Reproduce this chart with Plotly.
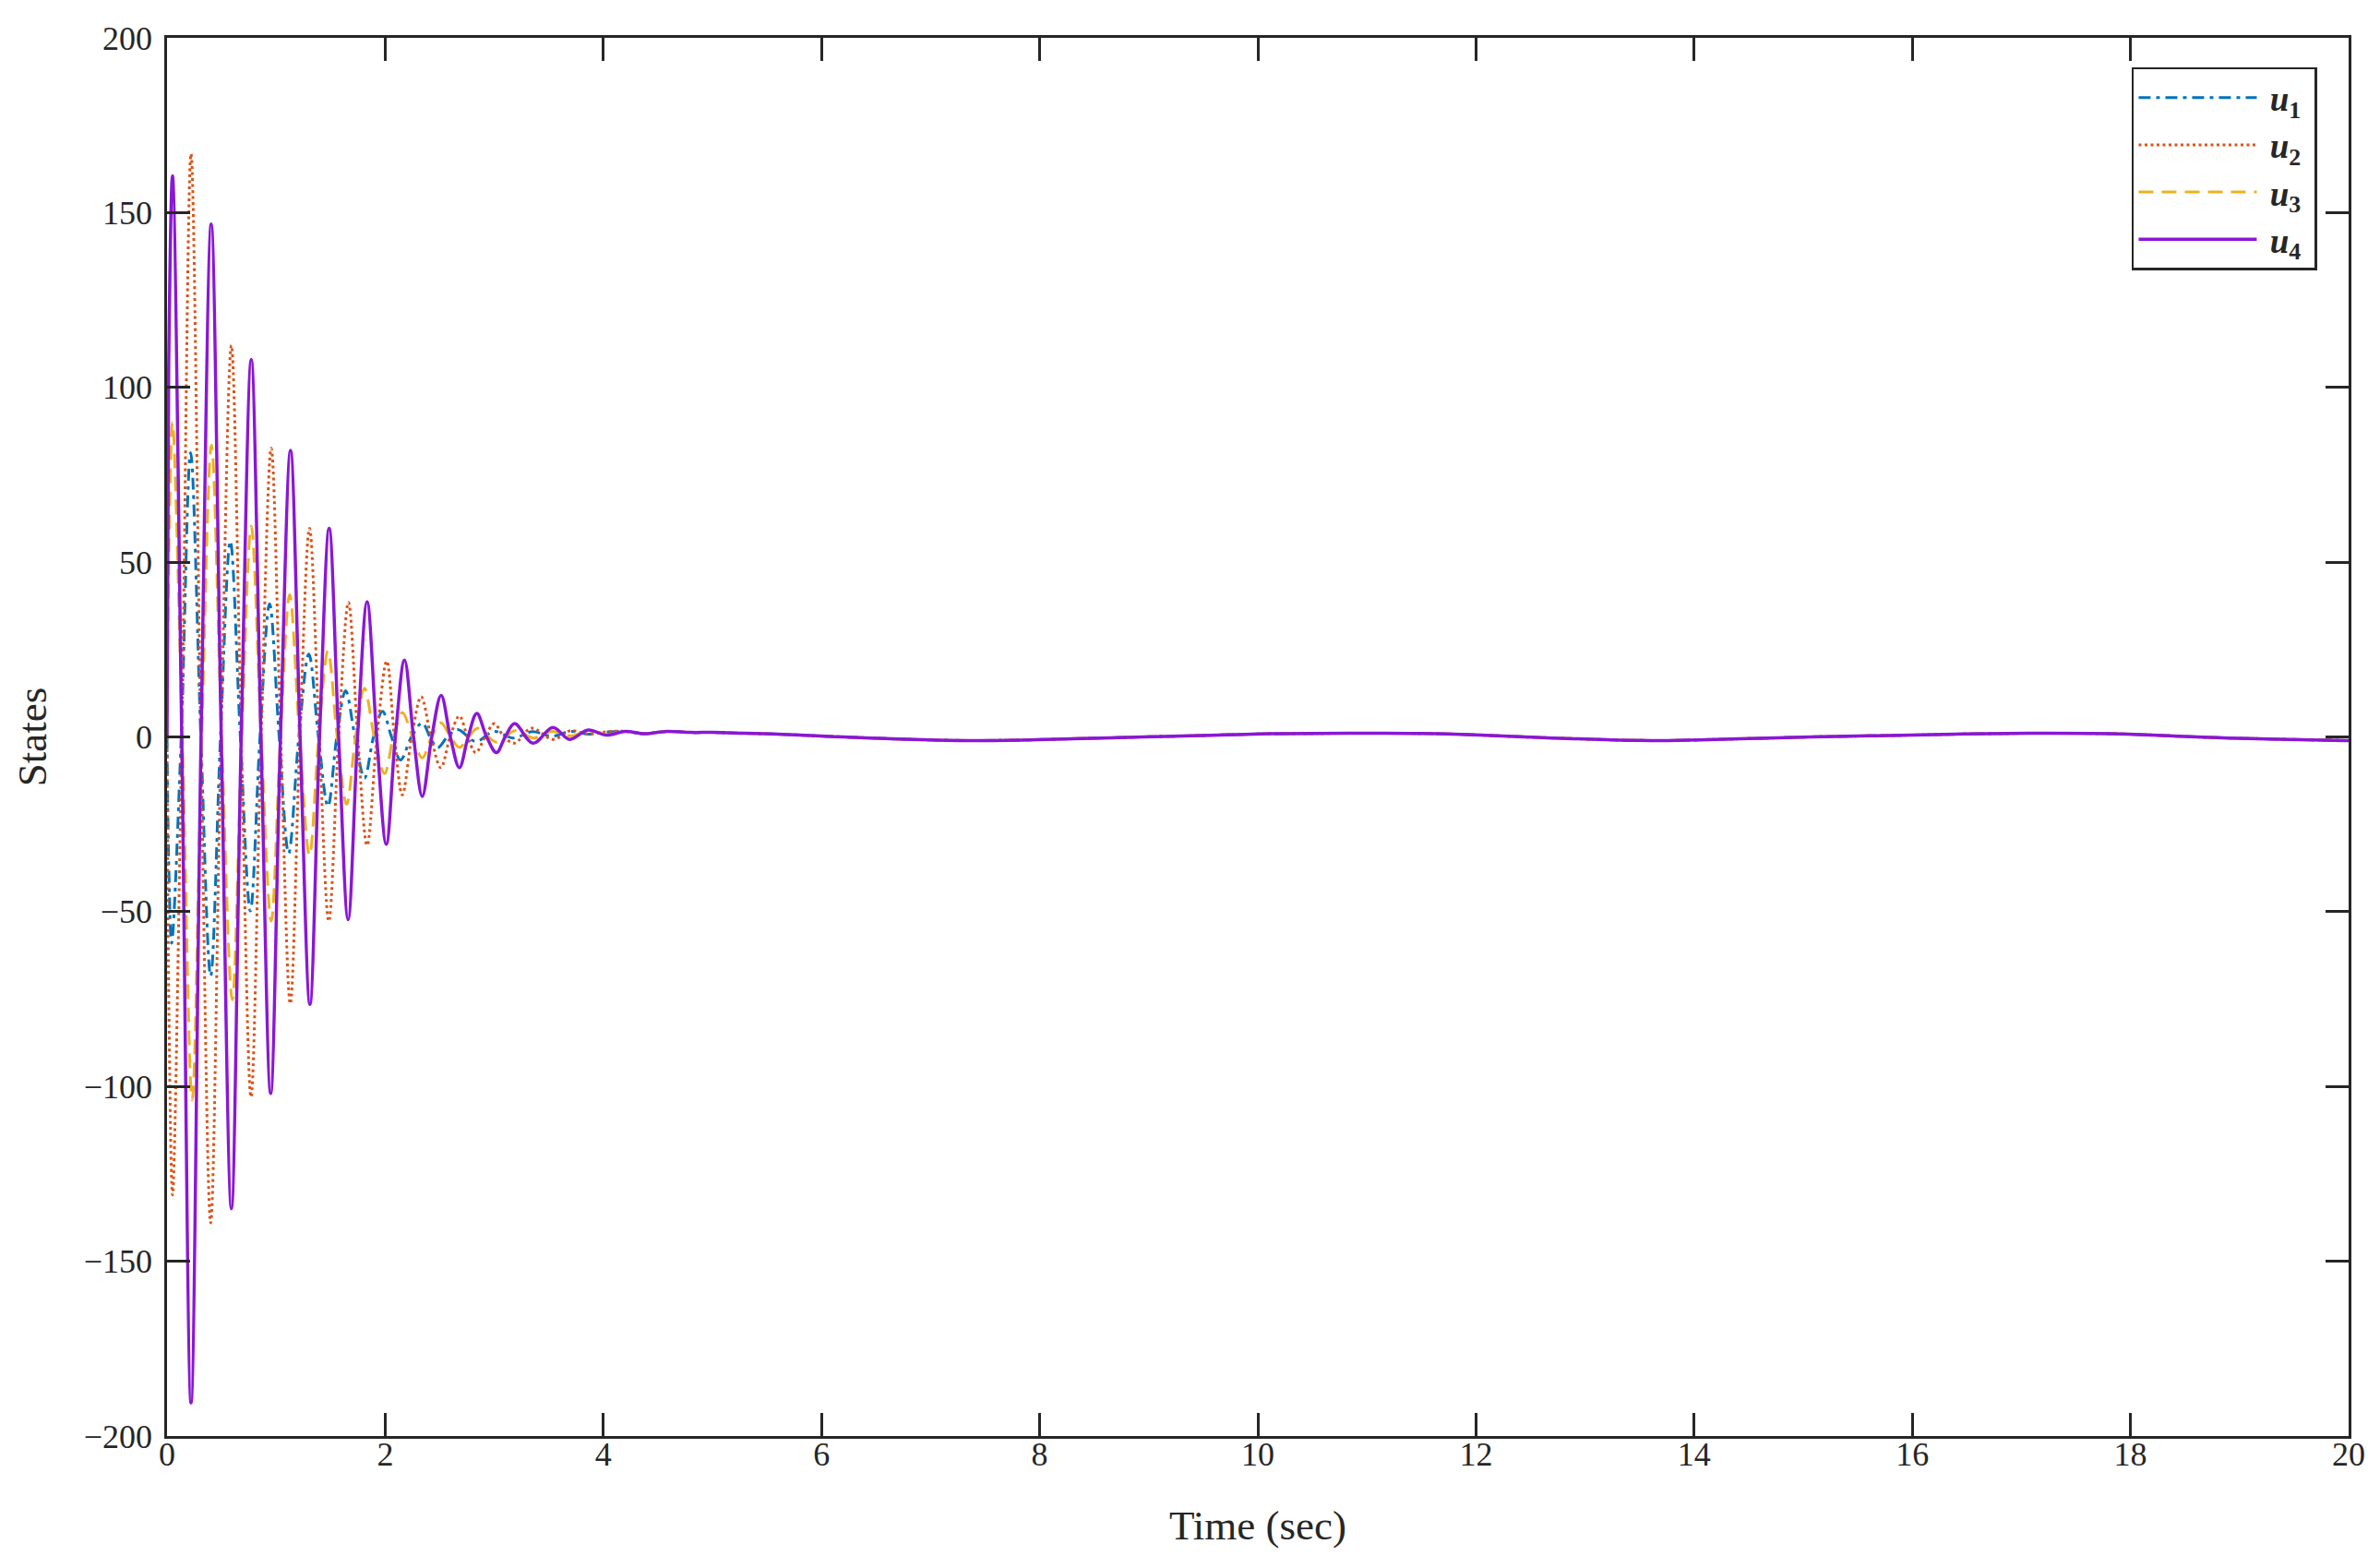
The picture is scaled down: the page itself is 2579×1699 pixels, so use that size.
import plotly.graph_objects as go

# u1: blue dash-dot
U1_T = [0, 0.015, 0.042, 0.13, 0.216, 0.31, 0.40, 0.49, 0.58, 0.672, 0.764, 0.852, 0.94, 1.028,
        1.115, 1.208, 1.30, 1.388, 1.475, 1.556, 1.637, 1.723, 1.81, 1.893, 1.975, 2.058, 2.14,
        2.24, 2.34, 2.41, 2.48, 2.57, 2.665, 2.83, 3.0, 3.17, 3.35, 3.53, 3.7, 3.86, 4.03]
U1_V = [0, -35, -59, 0, 81.3, 0, -68.4, 0, 56, 0, -49.8, 0, 38.1, 0,
        -33.3, 0, 23.7, 0, -19.9, 0, 13.2, 0, -11.8, 0, 7.3, 0, -6.6,
        0, 4.0, 0, -3.1, 0, 2.1, -1.3, 1.6, -0.3, 1.5, 0.2, 1.6, 0.8, 1.4]

# u2: orange dotted
U2_T = [0, 0.018, 0.05, 0.135, 0.22, 0.31, 0.40, 0.495, 0.59, 0.68, 0.77, 0.862, 0.955, 1.042,
        1.13, 1.218, 1.306, 1.395, 1.483, 1.573, 1.663, 1.748, 1.834, 1.924, 2.014, 2.085, 2.157,
        2.243, 2.33, 2.42, 2.51, 2.595, 2.68, 2.755, 2.83, 2.915, 3.0, 3.09, 3.186, 3.34, 3.54,
        3.7, 3.86, 4.03]
U2_V = [0, -80, -131, 0, 166.8, 0, -139, 0, 112, 0, -103, 0, 82.6, 0,
        -76.3, 0, 59.7, 0, -52.7, 0, 38.5, 0, -31, 0, 21.7, 0, -16.6,
        0, 11.5, 0, -8.8, 0, 6.0, 0, -4.5, 0, 3.8, 0, -1.8, 2.5, -0.7,
        1.8, 0.8, 1.5]

# u3: yellow dashed
U3_T = [0, 0.018, 0.05, 0.14, 0.23, 0.318, 0.407, 0.5, 0.598, 0.685, 0.772, 0.863, 0.955, 1.04,
        1.124, 1.215, 1.306, 1.39, 1.475, 1.56, 1.646, 1.728, 1.81, 1.9, 1.994, 2.075, 2.157,
        2.25, 2.34, 2.425, 2.51, 2.6, 2.68, 2.765, 2.85, 3.02, 3.19, 3.36, 3.53, 3.7, 3.86, 4.03]
U3_V = [0, 55, 90, 0, -103.8, 0, 83.5, 0, -75.2, 0, 60.3, 0, -52.7, 0,
        40.7, 0, -33.9, 0, 24.6, 0, -19.3, 0, 13.9, 0, -10.5, 0, 7.0,
        0, -6.0, 0, 4.0, 0, -3.0, 0, 2.5, -1.5, 1.8, -0.3, 1.6, 0.3, 1.8, 0.8]

# u4: purple solid
U4_T = [0, 0.015, 0.05, 0.135, 0.22, 0.312, 0.405, 0.497, 0.59, 0.68, 0.772, 0.861, 0.95, 1.04,
        1.132, 1.22, 1.31, 1.398, 1.486, 1.573, 1.66, 1.747, 1.834, 1.922, 2.01, 2.093, 2.177,
        2.26, 2.34, 2.427, 2.513, 2.597, 2.68, 2.76, 2.84, 2.93, 3.02, 3.1, 3.186, 3.355, 3.538,
        3.69, 3.86, 4.03]
U4_V = [0, 105, 160.5, 0, -190.5, 0, 146.7, 0, -135, 0, 108, 0, -102, 0,
        82, 0, -76.5, 0, 59.7, 0, -52.3, 0, 38.7, 0, -30.7, 0, 22,
        0, -17, 0, 11.9, 0, -8.8, 0, 6.7, 0, -4.5, 0, 3.8, -1.8, 2.7,
        -0.7, 2.0, 0.5]

# slow common tail, all four states overlap after ~4 s
TAIL_T = [4.2, 4.38, 4.58, 4.8, 5.0, 5.3, 5.6, 5.95, 6.2, 6.45, 6.7, 7.0, 7.4, 7.9, 8.3, 8.65,
          8.95, 9.3, 9.7, 10.1, 10.5, 11.0, 11.5, 11.8, 12.05, 12.25, 12.45, 12.65, 12.9, 13.2,
          13.7, 14.2, 14.6, 15.07, 15.6, 16.2, 16.7, 17.25, 17.8, 18.2, 18.5, 18.9, 19.45, 20.0]
TAIL_V = [1.6, 0.9, 1.6, 1.3, 1.3, 1.05, 0.8, 0.3, 0.0, -0.3, -0.6, -0.85, -1.05, -0.85, -0.5, -0.25,
          0.0, 0.26, 0.6, 0.9, 1.0, 1.05, 1.0, 0.8, 0.5, 0.26, 0.0, -0.26, -0.5, -0.8,
          -1.05, -0.7, -0.4, 0.0, 0.3, 0.65, 0.95, 1.05, 0.95, 0.55, 0.1, -0.3, -0.7, -1.05]

SERIES = [
    ("\u00a0<b><i>u</i><sub>1</sub></b>\u00a0", U1_T, U1_V, "#0072BD", "13px,6px,4px,6px", 3),
    ("\u00a0<b><i>u</i><sub>2</sub></b>\u00a0", U2_T, U2_V, "#D95319", "3px,3.5px", 3),
    ("\u00a0<b><i>u</i><sub>3</sub></b>\u00a0", U3_T, U3_V, "#EDB120", "16px,9px", 3),
    ("\u00a0<b><i>u</i><sub>4</sub></b>\u00a0", U4_T, U4_V, "#8A17D6", "solid", 3.5),
]

AXIS_COLOR = "#262626"
FONT = "Liberation Serif"

fig = go.Figure()
for name, t, v, color, dash, width in SERIES:
    fig.add_trace(go.Scatter(
        x=t + TAIL_T, y=v + TAIL_V,
        name=name,
        mode="lines",
        line=dict(color=color, width=width, dash=dash, shape="spline", smoothing=1),
    ))

axis_common = dict(
    showline=True, linecolor=AXIS_COLOR, linewidth=2.5, mirror="ticks",
    ticks="inside", ticklen=25, tickwidth=2.5, tickcolor=AXIS_COLOR,
    showgrid=False, zeroline=False,
    tickfont=dict(family=FONT, size=36, color=AXIS_COLOR),
)

fig.update_xaxes(
    range=[0, 20], tickvals=list(range(0, 21, 2)),
    ticklabelstandoff=-14,
    title=dict(text="Time (sec)", font=dict(family=FONT, size=45, color=AXIS_COLOR), standoff=42),
    **axis_common,
)
fig.update_yaxes(
    range=[-200, 200], tickvals=list(range(-200, 201, 50)),
    ticklabelstandoff=6,
    title=dict(text="States", font=dict(family=FONT, size=45, color=AXIS_COLOR), standoff=26),
    **axis_common,
)

# page body adds an 8px offset, margins compensate for it
fig.update_layout(
    width=2579, height=1699,
    margin=dict(l=173, r=42, t=33, b=151, autoexpand=False),
    plot_bgcolor="white", paper_bgcolor="white",
    font=dict(family=FONT, size=36, color=AXIS_COLOR),
    showlegend=True,
    legend=dict(
        x=0.9856, y=0.979, xanchor="right", yanchor="top",
        bgcolor="white", bordercolor=AXIS_COLOR, borderwidth=2.5,
        font=dict(family=FONT, size=37, color=AXIS_COLOR),
        itemwidth=128,
    ),
)

fig.write_html("out.html")
